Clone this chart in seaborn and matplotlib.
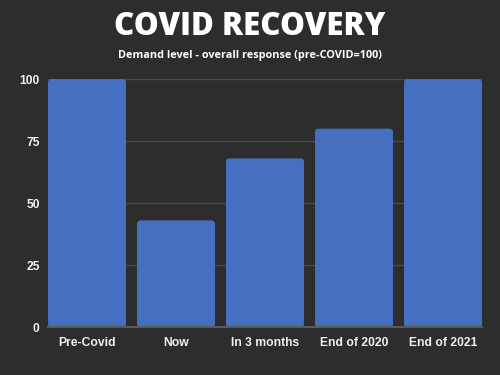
import pandas as pd
import matplotlib.pyplot as plt
import seaborn as sns
from matplotlib.patches import FancyBboxPatch

# data
stages = ['Pre-Covid', 'Now', 'In 3 months', 'End of 2020', 'End of 2021']
demand = [100, 43, 68, 80, 100]
ticks = [0, 25, 50, 75, 100]

df = pd.DataFrame({'stage': stages, 'demand': demand})

bg = '#2d2d2d'
bar_color = '#4570c2'

sns.set_theme(style='dark')
plt.rcParams['font.family'] = ['Liberation Sans', 'DejaVu Sans']

fig = plt.figure(figsize=(5, 3.75), dpi=100, facecolor=bg)
ax = fig.add_axes([0.096, 0.128, 0.868, 0.661])
ax.set_facecolor(bg)

sns.barplot(data=df, x='stage', y='demand', color=bar_color, width=0.876,
            saturation=1, ax=ax, zorder=3, linewidth=0)

ax.set_ylim(0, 100)
ax.set_xlim(-0.438, 4.438)

# swap the plain rectangles for ones with slightly rounded tops
for p in list(ax.patches):
    x, y = p.get_x(), p.get_y()
    w, h = p.get_width(), p.get_height()
    rounded = FancyBboxPatch((x, y), w, h, boxstyle='round,pad=0,rounding_size=0.04',
                             mutation_aspect=100 / 248 * 434 / 4.876,
                             facecolor=p.get_facecolor(), edgecolor='none', zorder=3)
    p.remove()
    ax.add_patch(rounded)

ax.set_yticks(ticks)
ax.yaxis.grid(True, color='#4a4a4a', linewidth=1, zorder=0)
ax.xaxis.grid(False)
for s in ['top', 'right', 'left']:
    ax.spines[s].set_visible(False)
ax.spines['bottom'].set_color('#5a5a5a')
ax.spines['bottom'].set_linewidth(1.5)
ax.spines['bottom'].set_zorder(4)
ax.tick_params(axis='both', length=0, colors='#f0f0f0', labelsize=8.7)
ax.tick_params(axis='y', pad=6)
ax.tick_params(axis='x', pad=7)
for lab in ax.get_xticklabels() + ax.get_yticklabels():
    lab.set_fontweight('bold')
ax.set_xlabel('')
ax.set_ylabel('')

fig.text(0.5, 0.928, 'COVID RECOVERY', ha='center', va='center', color='white',
         fontsize=22.5, fontweight='heavy', family=['Open Sans', 'DejaVu Sans'])
fig.text(0.5, 0.852, 'Demand level - overall response (pre-COVID=100)', ha='center',
         va='center', color='white', fontsize=7.8, fontweight='bold',
         family=['Open Sans', 'DejaVu Sans'])

fig.savefig('out.png', dpi=100, facecolor=bg)
